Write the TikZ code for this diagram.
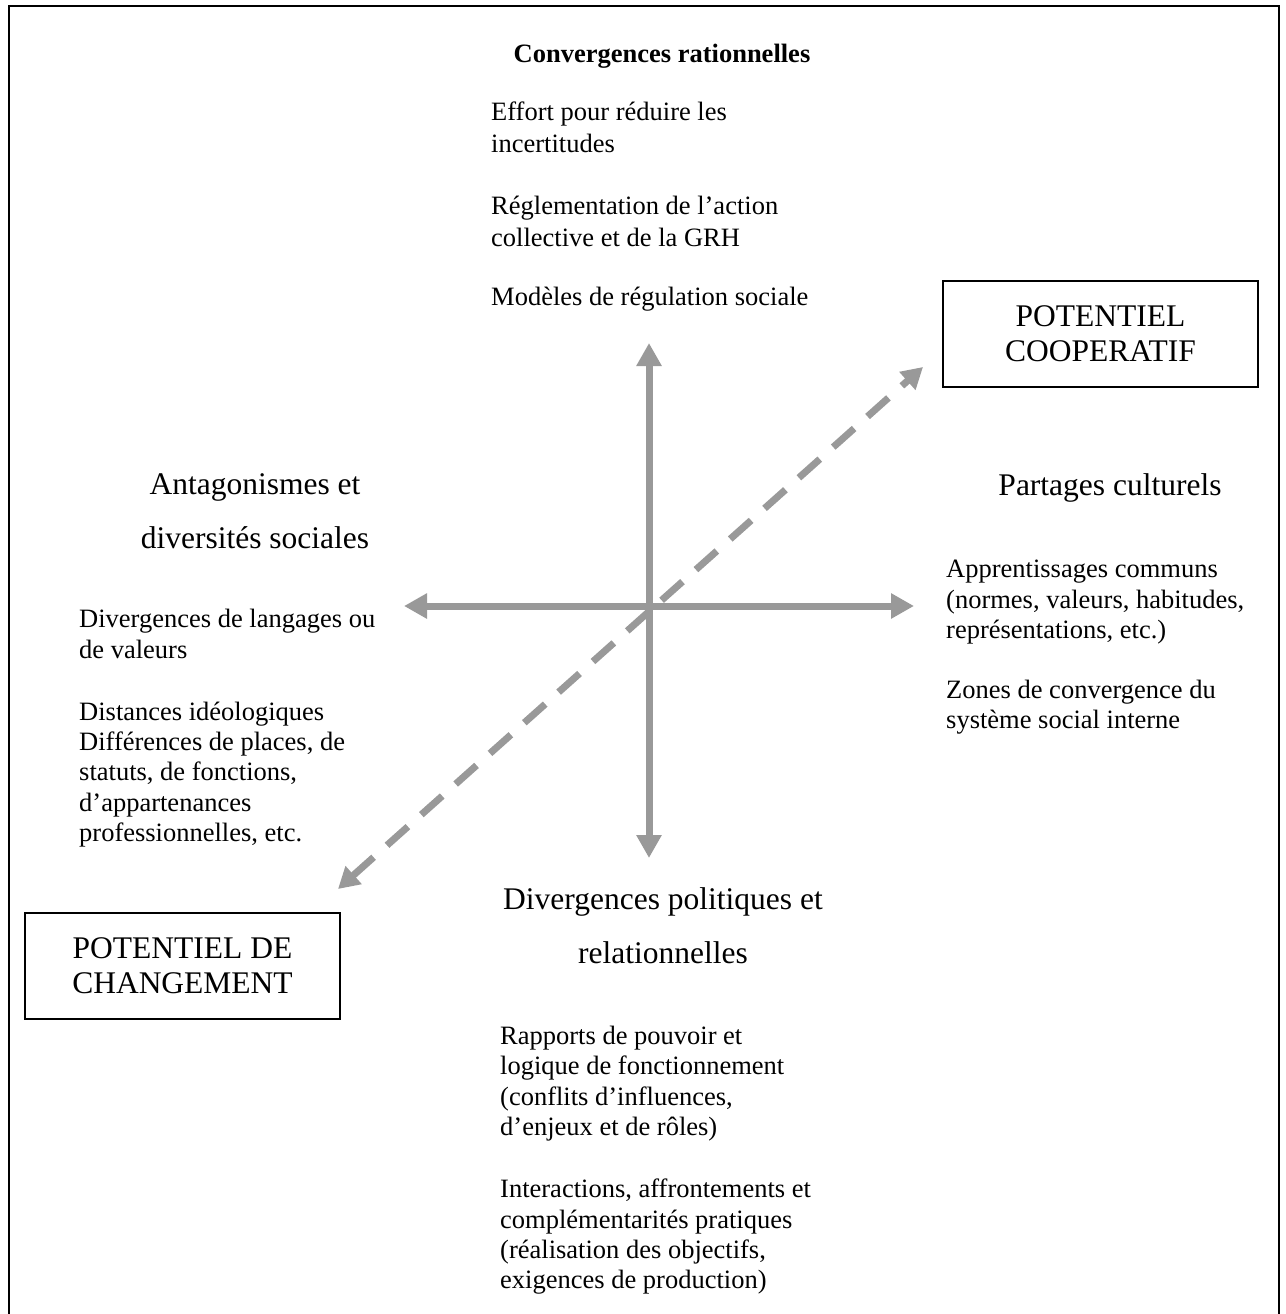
\documentclass[tikz,border=0pt]{standalone}
\usepackage{fontspec}
\setmainfont{Liberation Serif}
\usetikzlibrary{arrows.meta}
\definecolor{axisgray}{RGB}{153,153,153}
\begin{document}
\begin{tikzpicture}[x=1pt,y=-1pt,
  small/.style={anchor=base west,inner sep=0pt,font=\fontsize{26.5}{31}\selectfont},
  title/.style={anchor=base,inner sep=0pt,font=\fontsize{26.5}{31}\selectfont\bfseries},
  big/.style={anchor=base,inner sep=0pt,font=\fontsize{31.5}{36}\selectfont},
  boxlabel/.style={draw=black,line width=1.5pt,minimum width=315pt,minimum height=106pt,align=center,font=\fontsize{31.5}{35}\selectfont,inner sep=0pt},
  axis/.style={draw=axisgray,line width=7pt,{Triangle[length=23pt,width=24pt]}-{Triangle[length=23pt,width=24pt]}},
  diag/.style={draw=axisgray,line width=7pt,dash pattern=on 28pt off 18pt,{Triangle[length=21pt,width=23pt]}-{Triangle[length=21pt,width=23pt]}}
]
\useasboundingbox (0,0) rectangle (1285,1314);
\draw[line width=2pt] (9,1330) -- (9,6) -- (1279,6) -- (1279,1330);

% axes
\coordinate (top) at (649,343);
\coordinate (bottom) at (649,858);
\coordinate (left) at (404,606);
\coordinate (right) at (914,606);
\coordinate (dlow) at (338,889);
\coordinate (dhigh) at (923,367);
\draw[axis] (bottom) -- (top);
\draw[axis] (left) -- (right);
\draw[diag] (dlow) -- (dhigh);

% boxes
\node[boxlabel] (coop) at (1100.5,334) {POTENTIEL\\COOPERATIF};
\node[boxlabel] (chg) at (182.5,966) {POTENTIEL DE\\CHANGEMENT};

% top
\node[title] (t0) at (662,63) {Convergences rationnelles};
\node[small] (t1) at (491,120) {Effort pour réduire les};
\node[small] (t2) at (491,152) {incertitudes};
\node[small] (t3) at (491,214) {Réglementation de l’action};
\node[small] (t4) at (491,246) {collective et de la GRH};
\node[small] (t5) at (491,305) {Modèles de régulation sociale};

% left
\node[big] (l0) at (255,494) {Antagonismes et};
\node[big] (l1) at (255,548) {diversités sociales};
\node[small] (l2) at (79,627) {Divergences de langages ou};
\node[small] (l3) at (79,658) {de valeurs};
\node[small] (l4) at (79,720) {Distances idéologiques};
\node[small] (l5) at (79,750) {Différences de places, de};
\node[small] (l6) at (79,780) {statuts, de fonctions,};
\node[small] (l7) at (79,811) {d’appartenances};
\node[small] (l8) at (79,841) {professionnelles, etc.};

% right
\node[big] (r0) at (1110,495) {Partages culturels};
\node[small] (r1) at (946,577) {Apprentissages communs};
\node[small] (r2) at (946,608) {(normes, valeurs, habitudes,};
\node[small] (r3) at (946,638) {représentations, etc.)};
\node[small] (r4) at (946,698) {Zones de convergence du};
\node[small] (r5) at (946,728) {système social interne};

% bottom
\node[big] (b0) at (663,909) {Divergences politiques et};
\node[big] (b1) at (663,963) {relationnelles};
\node[small] (b2) at (500,1044) {Rapports de pouvoir et};
\node[small] (b3) at (500,1074) {logique de fonctionnement};
\node[small] (b4) at (500,1105) {(conflits d’influences,};
\node[small] (b5) at (500,1135) {d’enjeux et de rôles)};
\node[small] (b6) at (500,1197) {Interactions, affrontements et};
\node[small] (b7) at (500,1228) {complémentarités pratiques};
\node[small] (b8) at (500,1258) {(réalisation des objectifs,};
\node[small] (b9) at (500,1288) {exigences de production)};
\end{tikzpicture}
\end{document}
